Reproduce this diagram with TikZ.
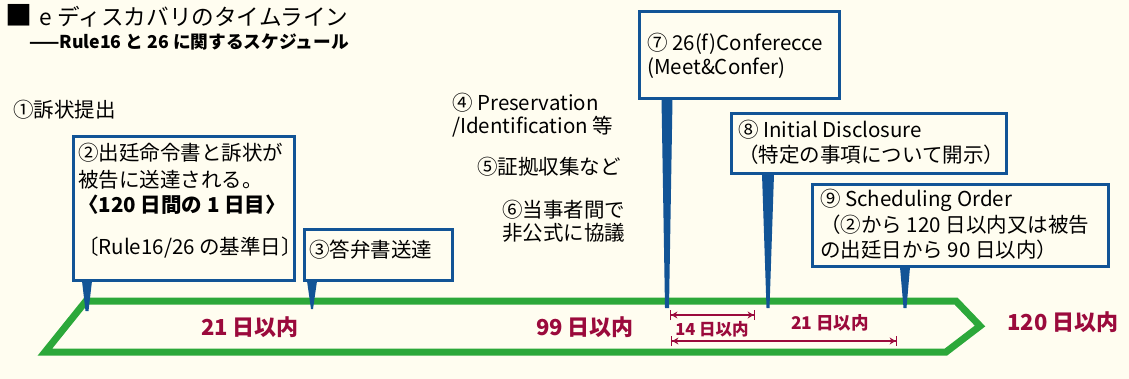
\documentclass[tikz,border=0pt]{standalone}
\usepackage{fontspec}
\setmainfont{Noto Sans CJK JP}
\usetikzlibrary{arrows.meta,calc}
\definecolor{bgc}{RGB}{255,253,240}
\definecolor{bluec}{RGB}{18,84,150}
\definecolor{greenc}{RGB}{44,168,58}
\definecolor{maroonc}{RGB}{155,10,60}
\tikzset{
  box/.style={draw=bluec, line width=3pt, fill=bgc, inner sep=0pt, anchor=north west},
  txt/.style={anchor=west, inner sep=0pt, font=\fontsize{20.5}{25}\selectfont},
  lbl/.style={text=maroonc, font=\bfseries\fontsize{22}{26}\selectfont, inner sep=0pt},
  slbl/.style={text=maroonc, font=\bfseries\fontsize{16.5}{20}\selectfont, inner sep=0pt},
  ptr/.style={fill=bluec},
  span/.style={draw=maroonc, line width=1.4pt,
    {Bar[width=10pt]Stealth[length=6pt,width=7pt]}-{Stealth[length=6pt,width=7pt]Bar[width=10pt]}},
  track/.style={draw=greenc, line width=7pt, line join=miter}
}
\newcommand\mypointer[4]{\fill[ptr] let \p1=(#1.south), \p2=(#2) in
  (\x2-#3,\y1+1) -- (\x2+#3,\y1+1) -- (\x2+#4,\y2) -- (\x2-#4,\y2) -- cycle;}
\begin{document}
\begin{tikzpicture}[x=1pt,y=-1pt]
\fill[bgc] (0,0) rectangle (1129,379);
\useasboundingbox (0,0) rectangle (1129,379);

% title
\node[anchor=west, inner sep=0pt, font=\fontsize{22.6}{26}\selectfont] (title) at (5,16) {{\fontsize{27}{27}\selectfont ■}\hspace{7pt}e\hspace{6pt}ディスカバリのタイムライン};
\node[anchor=west, inner sep=0pt, font=\bfseries\fontsize{17.7}{22}\selectfont] (subtitle) at (29,42) {——Rule16 と 26 に関するスケジュール};

% green track
\draw[track] (45,352) -- (86,301) -- (956,301) -- (980,326) -- (946,352) -- cycle;

% tips on the track
\coordinate (t2) at (87,311);
\coordinate (t3) at (312,309);
\coordinate (t7) at (667,308);
\coordinate (t8) at (768,308);
\coordinate (t9) at (905,308);

% boxes
\node[box, minimum width=221, minimum height=144] (b2) at (72,135) {};
\node[box, minimum width=148, minimum height=51] (b3) at (303,228) {};
\node[box, minimum width=200, minimum height=87] (b7) at (638,10) {};
\node[box, minimum width=275, minimum height=60] (b8) at (730,112) {};
\node[box, minimum width=296, minimum height=82] (b9) at (811,183) {};

% pointers
\mypointer{b2}{t2}{5}{1.5}
\mypointer{b3}{t3}{5}{1}
\mypointer{b7}{t7}{5.5}{2}
\mypointer{b8}{t8}{6}{1.5}
\mypointer{b9}{t9}{5}{1.5}

% texts
\node[txt] (n1) at (13,110) {①訴状提出};
\node[txt] (n2a) at (78,153) {②出廷命令書と訴状が};
\node[txt] (n2b) at (78,180) {被告に送達される。};
\node[txt, font=\bfseries\fontsize{20.5}{25}\selectfont] (n2c) at (78,205) {〈120 日間の 1 日目〉};
\node[txt] (n2d) at (78,248) {〔Rule16/26 の基準日〕};
\node[txt] (n3) at (309,250) {③答弁書送達};
\node[txt] (n4a) at (452,103) {④ Preservation};
\node[txt] (n4b) at (452,127) {/Identification 等};
\node[txt] (n5) at (477,167) {⑤証拠収集など};
\node[txt] (n6a) at (502,210) {⑥当事者間で};
\node[txt] (n6b) at (502,233) {非公式に協議};
\node[txt] (n7a) at (647,44) {⑦ 26(f)Conferecce};
\node[txt] (n7b) at (647,68) {(Meet\&Confer)};
\node[txt] (n8a) at (738,130) {⑧ Initial Disclosure};
\node[txt] (n8b) at (738,155) {（特定の事項について開示）};
\node[txt] (n9a) at (820,200) {⑨ Scheduling Order};
\node[txt] (n9b) at (820,225) {（②から 120 日以内又は被告};
\node[txt] (n9c) at (820,250) {の出廷日から 90 日以内）};

% maroon labels
\node[lbl] (d21) at (250,327) {21 日以内};
\node[lbl] (d99) at (585,327) {99 日以内};
\node[lbl] (d120) at (1063,322) {120 日以内};
\node[slbl] (d14s) at (712,329) {14 日以内};
\node[slbl, font=\bfseries\fontsize{17.5}{20}\selectfont] (d21s) at (830,323) {21 日以内};

% spans
\coordinate (s14a) at (670,315);
\coordinate (s14b) at (755,315);
\coordinate (s21a) at (671,341);
\coordinate (s21b) at (897,341);
\draw[span] (s14a) -- (s14b);
\draw[span] (s21a) -- (s21b);
\end{tikzpicture}
\end{document}
